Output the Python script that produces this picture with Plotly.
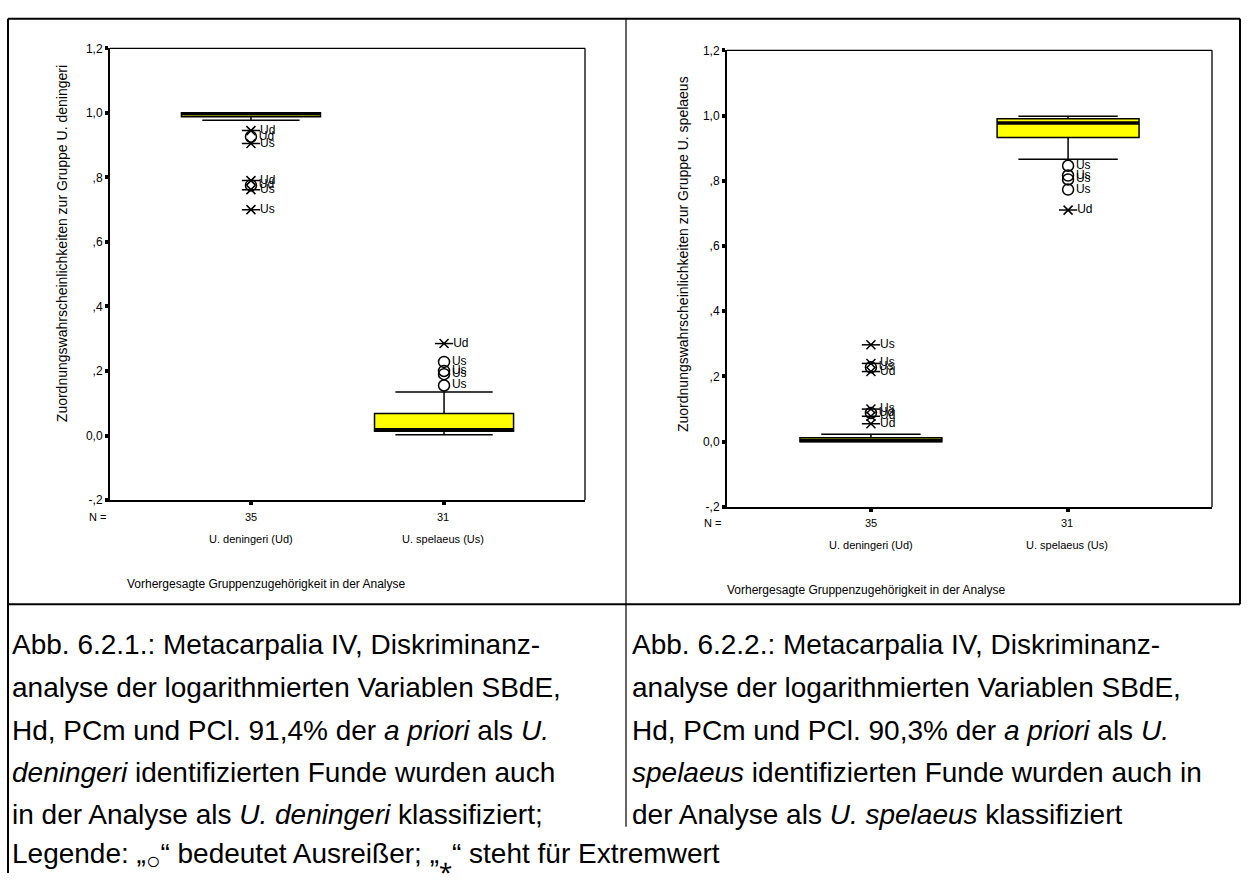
import plotly.graph_objects as go

# ---------------- data ----------------
categories = ["U. deningeri (Ud)", "U. spelaeus (Us)"]
cat_pos = [1, 2]
n_counts = [35, 31]

ytick_vals = [-0.2, 0.0, 0.2, 0.4, 0.6, 0.8, 1.0, 1.2]
ytick_text = ["-,2", "0,0", ",2", ",4", ",6", ",8", "1,0", "1,2"]

# Panel 1: probability of membership in group U. deningeri
p1_q1 = [0.988, 0.013]
p1_median = [0.997, 0.018]
p1_q3 = [1.000, 0.068]
p1_lower = [0.977, 0.002]
p1_upper = [1.000, 0.135]
p1_ext_cat = [1, 1, 1, 1, 1, 2]
p1_ext_val = [0.945, 0.905, 0.790, 0.762, 0.700, 0.285]
p1_ext_lab = ["Ud", "Us", "Ud", "Us", "Us", "Ud"]
p1_out_cat = [1, 1, 2, 2, 2, 2]
p1_out_val = [0.926, 0.775, 0.228, 0.200, 0.190, 0.155]
p1_out_lab = ["Ud", "Ud", "Us", "Us", "Us", "Us"]

# Panel 2: probability of membership in group U. spelaeus
p2_q1 = [0.000, 0.933]
p2_median = [0.004, 0.977]
p2_q3 = [0.012, 0.990]
p2_lower = [0.000, 0.866]
p2_upper = [0.023, 0.998]
p2_ext_cat = [1, 1, 1, 1, 1, 1, 2]
p2_ext_val = [0.297, 0.240, 0.215, 0.100, 0.078, 0.055, 0.710]
p2_ext_lab = ["Us", "Us", "Ud", "Us", "Ud", "Ud", "Ud"]
p2_out_cat = [1, 1, 2, 2, 2, 2]
p2_out_val = [0.228, 0.088, 0.846, 0.816, 0.804, 0.773]
p2_out_lab = ["Us", "Ud", "Us", "Us", "Us", "Us"]

y_titles = ["Zuordnungswahrscheinlichkeiten zur Gruppe U. deningeri",
            "Zuordnungswahrscheinlichkeiten zur Gruppe U. spelaeus"]
x_title = "Vorhergesagte Gruppenzugehörigkeit in der Analyse"

caption_left = [
    "Abb. 6.2.1.: Metacarpalia IV, Diskriminanz-",
    "analyse der logarithmierten Variablen SBdE,",
    "Hd, PCm und PCl. 91,4% der <i>a priori</i> als <i>U.</i>",
    "<i>deningeri</i> identifizierten Funde wurden auch",
    "in der Analyse als <i>U. deningeri</i> klassifiziert;",
]
caption_right = [
    "Abb. 6.2.2.: Metacarpalia IV, Diskriminanz-",
    "analyse der logarithmierten Variablen SBdE,",
    "Hd, PCm und PCl. 90,3% der <i>a priori</i> als <i>U.</i>",
    "<i>spelaeus</i> identifizierten Funde wurden auch in",
    "der Analyse als <i>U. spelaeus</i> klassifiziert",
]
legend_line = ("Legende: „<sub><span style='font-size:24px'>○</span></sub>“ bedeutet Ausreißer; "
               "„<sub><span style='font-size:24px'>⁎</span></sub>“ steht für Extremwert")

# ---------------- layout helpers ----------------
W, H = 1247, 880
FONT = "Arial, Liberation Sans, sans-serif"
BOX_W = 0.72
CAP_SIZE = 28


def px(x):
    return x / W


def py(y):
    return 1 - y / H


fig = go.Figure()

panels = [
    dict(q1=p1_q1, med=p1_median, q3=p1_q3, lo=p1_lower, hi=p1_upper,
         ec=p1_ext_cat, ev=p1_ext_val, el=p1_ext_lab,
         oc=p1_out_cat, ov=p1_out_val, ol=p1_out_lab, xa="x", ya="y"),
    dict(q1=p2_q1, med=p2_median, q3=p2_q3, lo=p2_lower, hi=p2_upper,
         ec=p2_ext_cat, ev=p2_ext_val, el=p2_ext_lab,
         oc=p2_out_cat, ov=p2_out_val, ol=p2_out_lab, xa="x2", ya="y2"),
]

for p in panels:
    fig.add_trace(go.Box(
        x=cat_pos, q1=p["q1"], median=p["med"], q3=p["q3"],
        lowerfence=p["lo"], upperfence=p["hi"],
        width=BOX_W, whiskerwidth=0.7, boxpoints=False,
        fillcolor="#ffff00", line=dict(color="black", width=1.5),
        xaxis=p["xa"], yaxis=p["ya"], showlegend=False, hoverinfo="skip"))
    for c, m in zip(cat_pos, p["med"]):
        fig.add_trace(go.Scatter(
            x=[c - BOX_W / 2, c + BOX_W / 2], y=[m, m], mode="lines",
            line=dict(color="black", width=3.5),
            xaxis=p["xa"], yaxis=p["ya"], showlegend=False, hoverinfo="skip"))
    # extreme values: asterisk drawn as an X plus a horizontal bar
    fig.add_trace(go.Scatter(
        x=p["ec"], y=p["ev"], mode="markers",
        marker=dict(symbol="x-thin-open", size=9, color="black",
                    line=dict(color="black", width=1.5)),
        xaxis=p["xa"], yaxis=p["ya"], showlegend=False, hoverinfo="skip"))
    fig.add_trace(go.Scatter(
        x=p["ec"], y=p["ev"], mode="markers+text", text=p["el"],
        textposition="middle right",
        textfont=dict(family=FONT, size=12, color="black"),
        marker=dict(symbol="line-ew-open", size=13, color="black",
                    line=dict(color="black", width=1.5)),
        xaxis=p["xa"], yaxis=p["ya"], showlegend=False, hoverinfo="skip"))
    # outliers: open circles
    fig.add_trace(go.Scatter(
        x=p["oc"], y=p["ov"], mode="markers+text", text=p["ol"],
        textposition="middle right",
        textfont=dict(family=FONT, size=12, color="black"),
        marker=dict(symbol="circle-open", size=11, color="black",
                    line=dict(color="black", width=1.5)),
        xaxis=p["xa"], yaxis=p["ya"], showlegend=False, hoverinfo="skip"))

axis_common = dict(showgrid=False, zeroline=False, showline=True, linewidth=2,
                   linecolor="black", mirror=False, ticks="outside", ticklen=3,
                   tickwidth=4, tickcolor="black")

# plot-area geometry in pixels: (left, right, top, bottom)
geo = [(110, 585, 42, 501), (727, 1212, 44, 508)]

layout_axes = {}
for i, (l, r, t, b) in enumerate(geo):
    sx = "" if i == 0 else "2"
    layout_axes["xaxis" + sx] = dict(domain=[px(l), px(r)], range=[0.27, 2.73],
                                     tickvals=cat_pos, showticklabels=False,
                                     anchor="y" + sx, **axis_common)
    layout_axes["yaxis" + sx] = dict(domain=[py(b), py(t)], range=[-0.2, 1.2],
                                     tickvals=ytick_vals, ticktext=ytick_text,
                                     tickfont=dict(family=FONT, size=12, color="black"),
                                     anchor="x" + sx, **axis_common)

annotations = []


def ann(text, x, y, size, xanchor="center", angle=0):
    annotations.append(dict(text=text, x=px(x), y=py(y), xref="paper", yref="paper",
                            showarrow=False, xanchor=xanchor, yanchor="middle",
                            textangle=angle,
                            font=dict(family=FONT, size=size, color="black")))


panel_text = [
    dict(nx=97, ny=518, cats=[251, 443], cy=541, tx=266, ty=586, ytx=62, yty=241),
    dict(nx=712, ny=524, cats=[871, 1067], cy=547, tx=866, ty=592, ytx=683, yty=251),
]
for i, pt in enumerate(panel_text):
    ann("N =", pt["nx"], pt["ny"], 11)
    for cx, n, cname in zip(pt["cats"], n_counts, categories):
        ann(str(n), cx, pt["ny"], 11)
        ann(cname, cx, pt["cy"], 11)
    ann(x_title, pt["tx"], pt["ty"], 12)
    ann(y_titles[i], pt["ytx"], pt["yty"], 14, angle=-90)

# captions
line_y = [648, 692, 735, 778, 821]
for yy, tl, tr in zip(line_y, caption_left, caption_right):
    ann(tl, 10, yy, CAP_SIZE, xanchor="left")
    ann(tr, 630, yy, CAP_SIZE, xanchor="left")
ann(legend_line, 10, 863, CAP_SIZE, xanchor="left")

# table borders and thin top/right frame lines of the plots
shapes = []


def line(x0, y0, x1, y1, w):
    shapes.append(dict(type="line", xref="paper", yref="paper",
                       x0=px(x0), y0=py(y0), x1=px(x1), y1=py(y1),
                       line=dict(color="black", width=w)))


line(8, 12, 1240, 12, 2)
line(8, 12, 8, 880, 2)
line(1240, 12, 1240, 607, 2)
line(626, 12, 626, 607, 1.2)
line(8, 607, 1240, 607, 2)
line(626, 607, 626, 833, 1.2)

for sx in ["", "2"]:
    shapes.append(dict(type="line", xref="x%s domain" % sx, yref="y%s domain" % sx,
                       x0=0, x1=1, y0=1, y1=1, line=dict(color="black", width=1.3)))
    shapes.append(dict(type="line", xref="x%s domain" % sx, yref="y%s domain" % sx,
                       x0=1, x1=1, y0=0, y1=1, line=dict(color="black", width=1.3)))

fig.update_layout(width=W, height=H, margin=dict(l=0, r=0, t=0, b=0),
                  paper_bgcolor="white", plot_bgcolor="white",
                  showlegend=False, annotations=annotations, shapes=shapes,
                  **layout_axes)

fig.write_html("out.html")
